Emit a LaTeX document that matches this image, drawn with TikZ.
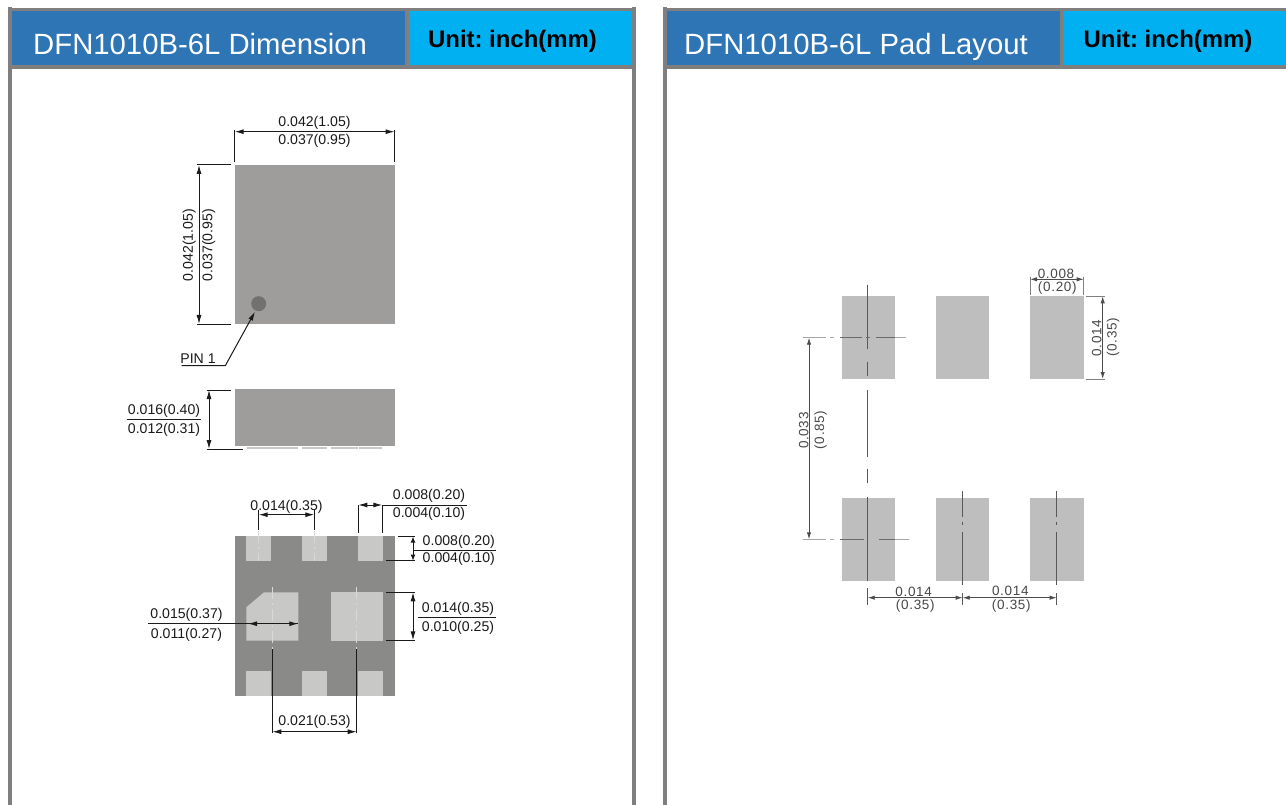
\documentclass[tikz,border=0pt]{standalone}
\usepackage{fontspec}
\setmainfont{Liberation Sans}
\newfontfamily\layfont[LetterSpace=5]{Liberation Sans}
\usetikzlibrary{arrows.meta}
\definecolor{hblue}{HTML}{2E75B6}
\definecolor{hcyan}{HTML}{00B0F0}
\definecolor{frameg}{HTML}{7F7F7F}
\definecolor{bodyg}{HTML}{9E9D9B}
\definecolor{dotg}{HTML}{71716F}
\definecolor{botg}{HTML}{8A8A88}
\definecolor{padg}{HTML}{C8C8C6}
\definecolor{layg}{HTML}{BEBEBE}
\definecolor{inkc}{HTML}{1A1A1A}
\tikzset{
  x=1pt,y=-1pt,
  dimtext/.style={font=\fontsize{14.1}{14}\selectfont,text=inkc,inner sep=0pt},
  laytext/.style={font=\fontsize{13.5}{14}\layfont,text=black!72,inner sep=0pt},
  dim/.style={draw=inkc,line width=1pt,{Latex[length=9pt,width=5pt]}-{Latex[length=9pt,width=5pt]}},
  ext/.style={draw=inkc,line width=1pt},
  laydim/.style={draw=black!70,line width=0.9pt,{Latex[length=7pt,width=4.4pt]}-{Latex[length=7pt,width=4.4pt]}},
  layext/.style={draw=black!50,line width=0.8pt},
  laycl/.style={draw=black!65,line width=0.9pt},
  lightcl/.style={draw=black!35,line width=0.9pt},
  incl/.style={draw=black!58,line width=0.9pt},
  padcl/.style={draw=white!85!black,line width=0.8pt,dash pattern=on 12pt off 4pt on 2pt off 4pt},
  hdr/.style={font=\fontsize{29.3}{30}\selectfont,text=white,inner sep=0pt,anchor=base west},
  unit/.style={font=\fontsize{23.9}{24}\selectfont\bfseries,text=black,inner sep=0pt,anchor=base},
}
\begin{document}
\frenchspacing
\begin{tikzpicture}
\useasboundingbox (0,0) rectangle (1286,805);
\fill[white] (0,0) rectangle (1286,805);
% left panel frame
\fill[frameg] (8,8) rectangle (636,69);
\fill[frameg] (8,7) rectangle (12,805);
\fill[frameg] (632,7) rectangle (636,805);
\fill[hblue] (12,11) rectangle (405,65);
\fill[hcyan] (409,11) rectangle (632,65);
\node[hdr] (t1) at (33,55) {DFN1010B-6L Dimension};
\node[unit] (u1) at (512.5,48) {Unit: inch(mm)};
% right panel frame
\fill[frameg] (663,8) rectangle (1286,69);
\fill[frameg] (663,7) rectangle (667,805);
\fill[hblue] (667,11) rectangle (1059.5,65);
\fill[hcyan] (1063,11) rectangle (1286,65);
\node[hdr] (t2) at (684,55) {DFN1010B-6L Pad Layout};
\node[unit] (u2) at (1168,48) {Unit: inch(mm)};

% top view
\fill[bodyg] (234.7,165) rectangle (395,324);
\fill[dotg] (258.7,303.7) circle[radius=7.5];
\draw[ext] (234.7,130) -- (234.7,161.7);
\draw[ext] (394.5,130) -- (394.5,161.7);
\draw[dim] (234.7,131.7) -- (394.5,131.7);
\node[dimtext] (a1) at (314.5,122.8) {0.042(1.05)};
\node[dimtext] (a2) at (314.5,141.3) {0.037(0.95)};
\draw[ext] (197,165) -- (230.7,165);
\draw[ext] (197,324) -- (230.7,324);
\draw[dim] (199,165) -- (199,324);
\node[dimtext,rotate=90] (a3) at (189.3,245) {0.042(1.05)};
\node[dimtext,rotate=90] (a4) at (208.7,245) {0.037(0.95)};
\node[dimtext] (p1) at (198,359) {PIN 1};
\draw[ext,-{Latex[length=9pt,width=5pt]}] (181.7,365.7) -- (225.3,365.7) -- (255,311.7);

% side view
\fill[bodyg] (234.7,389.3) rectangle (395,446);
\foreach \a/\b in {246.7/270.7,271.3/298,302.3/327,331/358,358.7/382.3}
  \fill[padg] (\a,446.5) rectangle (\b,449);
\draw[ext] (206.7,390) -- (230.7,390);
\draw[ext] (206.7,449) -- (243,449);
\draw[dim] (209,390) -- (209,449);
\draw[ext] (126.7,419) -- (201.3,419);
\node[dimtext] (b1) at (164,410.5) {0.016(0.40)};
\node[dimtext] (b2) at (164,429.5) {0.012(0.31)};

% bottom view
\fill[botg] (234.7,536.3) rectangle (395,696);
\foreach \a/\b in {246.3/271,302/327,358/382.7}{
  \fill[padg] (\a,536.3) rectangle (\b,561.3);
  \fill[padg] (\a,671.3) rectangle (\b,696);
}
\fill[padg] (264,592.3) -- (298.3,592.3) -- (298.3,640.7) -- (246.3,640.7) -- (246.3,607.3) -- cycle;
\fill[padg] (330.7,592.3) rectangle (382.7,640.7);
% centre lines on bottom view
\draw[padcl] (258.7,531) -- (258.7,561);
\draw[padcl] (314.3,531) -- (314.3,561);
\draw[padcl] (272.3,587.3) -- (272.3,649);
\draw[padcl] (356.7,587.3) -- (356.7,649);
\draw[ext] (258.7,510) -- (258.7,530);
\draw[ext] (314.3,510) -- (314.3,530);
\draw[dim] (258.7,514.7) -- (314.3,514.7);
\node[dimtext] (c1) at (286.5,506.5) {0.014(0.35)};
\draw[ext] (358.3,505) -- (358.3,532.7);
\draw[ext] (382.3,505) -- (382.3,532.7);
\draw[dim] (358.3,505) -- (382.3,505);
\draw[ext] (382.3,505) -- (466.7,505);
\node[dimtext] (c2) at (429,496) {0.008(0.20)};
\node[dimtext] (c3) at (429,514) {0.004(0.10)};
\draw[ext] (398.3,536.6) -- (415,536.6);
\draw[ext] (386,560.6) -- (415,560.6);
\draw[ext,{Latex[length=6pt,width=5pt]}-{Latex[length=6pt,width=5pt]}] (413,536.6) -- (413,560.6);
\draw[ext] (413,550.3) -- (496,550.3);
\node[dimtext] (c4) at (458.8,541.5) {0.008(0.20)};
\node[dimtext] (c5) at (458.8,558.8) {0.004(0.10)};
\draw[ext] (386,592.3) -- (415,592.3);
\draw[ext] (386,640.3) -- (415,640.3);
\draw[dim] (413,592.3) -- (413,640.3);
\draw[ext] (418,617) -- (496,617);
\node[dimtext] (c6) at (458,609) {0.014(0.35)};
\node[dimtext] (c7) at (458,627.8) {0.010(0.25)};
\draw[ext] (148,623.7) -- (298.3,623.7);
\draw[ext,{Latex[length=9pt,width=5pt]}-{Latex[length=9pt,width=5pt]}] (248,623.7) -- (298.3,623.7);
\node[dimtext] (c8) at (186.5,614.7) {0.015(0.37)};
\node[dimtext] (c9) at (186.5,635) {0.011(0.27)};
\draw[ext] (272.3,649.3) -- (272.3,733.3);
\draw[ext] (356.7,649.3) -- (356.7,733.3);
\draw[dim] (272.3,731.7) -- (356.7,731.7);
\node[dimtext] (c10) at (314.5,722.3) {0.021(0.53)};

% pad layout
\foreach \a/\b in {841.7/895.3,935.7/989.3,1030/1083.7}{
  \fill[layg] (\a,296.3) rectangle (\b,379);
  \fill[layg] (\a,498) rectangle (\b,580.7);
}
% vertical centre line col 1
\draw[laycl] (867.7,284.7) -- (867.7,349);
\draw[laycl] (867.7,362.3) -- (867.7,376);
\draw[laycl] (867.7,389.7) -- (867.7,456.7);
\draw[laycl] (867.7,469) -- (867.7,483.3);
\draw[laycl] (867.7,496.7) -- (867.7,580.7);
\draw[laycl] (867.7,588.3) -- (867.7,605);
% horizontal centre lines
\draw[lightcl] (802.7,337.7) -- (826,337.7);
\draw[lightcl] (830,337.7) -- (834.3,337.7);
\draw[incl] (840,337.7) -- (862,337.7);
\draw[incl] (866,337.7) -- (870,337.7);
\draw[incl] (876,337.7) -- (895.3,337.7);
\draw[lightcl] (895.3,337.7) -- (905.7,337.7);
\draw[lightcl] (802.7,539.3) -- (826,539.3);
\draw[lightcl] (830,539.3) -- (834.3,539.3);
\draw[incl] (840,539.3) -- (864,539.3);
\draw[incl] (879.3,539.3) -- (895.3,539.3);
\draw[lightcl] (895.3,539.3) -- (909.3,539.3);
% vertical centre lines col 2 and 3
\foreach \x in {962.7,1056.7}{
  \draw[laycl] (\x,491) -- (\x,516.7);
  \draw[laycl] (\x,521.7) -- (\x,525);
  \draw[laycl] (\x,531.7) -- (\x,585);
  \draw[laycl] (\x,593.3) -- (\x,605);
}
\draw[laydim] (867.7,597.7) -- (962.7,597.7);
\draw[laydim] (962.7,597.7) -- (1056.7,597.7);
\node[laytext] (d1) at (913.7,591.7) {0.014};
\node[laytext] (d2) at (915.3,606.3) {(0.35)};
\node[laytext] (d3) at (1010.3,591) {0.014};
\node[laytext] (d4) at (1011.3,605.8) {(0.35)};
\draw[layext] (1030,277) -- (1030,294.7);
\draw[layext] (1083.7,277) -- (1083.7,294.7);
\draw[laydim] (1030,279.3) -- (1083.7,279.3);
\node[laytext] (d5) at (1056,273.8) {0.008};
\node[laytext] (d6) at (1057.3,287.8) {(0.20)};
\draw[layext] (1086,296.3) -- (1105,296.3);
\draw[layext] (1086,379) -- (1105,379);
\draw[laydim] (1102.7,296.3) -- (1102.7,379);
\node[laytext,rotate=90] (d7) at (1096.7,338.3) {0.014};
\node[laytext,rotate=90] (d8) at (1113.2,337.3) {(0.35)};
\draw[laydim] (809,337.7) -- (809,539.3);
\node[laytext,rotate=90] (d9) at (803.8,430.7) {0.033};
\node[laytext,rotate=90] (d10) at (820.5,430) {(0.85)};
\end{tikzpicture}
\end{document}
